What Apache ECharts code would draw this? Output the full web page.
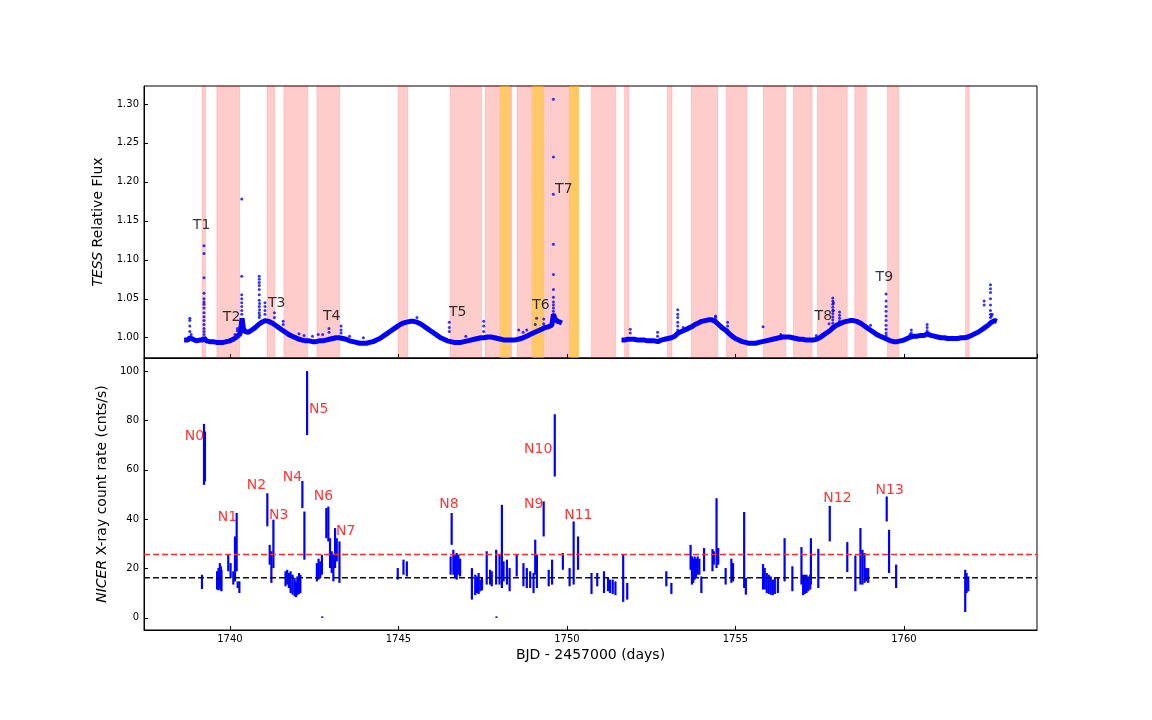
<!DOCTYPE html>
<html><head><meta charset="utf-8">
<script src="https://cdn.jsdelivr.net/npm/echarts@6/dist/echarts.min.js"></script>
<style>html,body{margin:0;padding:0;background:#fff}#c{width:1152px;height:720px}</style>
</head><body><div id="c"></div>
<script>
// ---------- data ----------
const xMin = 1737.45, xMax = 1763.95;
const xTicks = [1740, 1745, 1750, 1755, 1760];
const fluxTicks = [1.00, 1.05, 1.10, 1.15, 1.20, 1.25, 1.30];
const rateTicks = [0, 20, 40, 60, 80, 100];

// TESS baseline, orbit 1
const tessT1 = [1738.64,1738.75,1738.81,1738.90,1739.00,1739.10,1739.20,1739.23,1739.30,1739.40,1739.50,1739.60,1739.70,1739.80,1739.90,1740.00,1740.10,1740.20,1740.30,1740.36,1740.40,1740.45,1740.55,1740.65,1740.75,1740.85,1740.95,1741.05,1741.15,1741.25,1741.35,1741.45,1741.55,1741.65,1741.75,1741.85,1741.95,1742.05,1742.15,1742.25,1742.35,1742.45,1742.55,1742.65,1742.75,1742.85,1742.95,1743.05,1743.15,1743.25,1743.35,1743.45,1743.55,1743.65,1743.75,1743.85,1743.95,1744.05,1744.15,1744.25,1744.35,1744.45,1744.55,1744.65,1744.75,1744.85,1744.95,1745.05,1745.15,1745.25,1745.35,1745.45,1745.55,1745.65,1745.75,1745.85,1745.95,1746.05,1746.15,1746.25,1746.35,1746.45,1746.55,1746.65,1746.75,1746.85,1746.95,1747.05,1747.15,1747.25,1747.35,1747.45,1747.55,1747.65,1747.75,1747.85,1747.95,1748.05,1748.15,1748.25,1748.35,1748.45,1748.55,1748.65,1748.75,1748.85,1748.95,1749.05,1749.15,1749.25,1749.35,1749.45,1749.55,1749.60,1749.65,1749.72,1749.80,1749.85];
const tessF1 = [0.997,0.997,1.000,0.998,0.996,0.997,0.997,1.000,0.996,0.995,0.995,0.994,0.994,0.994,0.995,0.996,0.998,1.001,1.005,1.025,1.012,1.008,1.007,1.010,1.013,1.017,1.020,1.022,1.021,1.019,1.016,1.013,1.010,1.007,1.004,1.002,1.000,0.998,0.997,0.996,0.996,0.995,0.995,0.996,0.996,0.997,0.998,0.999,1.000,1.000,0.999,0.998,0.996,0.995,0.994,0.993,0.993,0.993,0.994,0.995,0.997,0.999,1.002,1.005,1.008,1.011,1.014,1.017,1.019,1.020,1.021,1.021,1.020,1.018,1.015,1.012,1.009,1.006,1.003,1.000,0.998,0.996,0.995,0.994,0.994,0.994,0.995,0.996,0.997,0.998,0.999,1.000,1.000,1.001,1.001,1.000,0.999,0.998,0.997,0.997,0.997,0.997,0.998,0.999,1.001,1.003,1.005,1.007,1.009,1.011,1.013,1.014,1.016,1.030,1.024,1.021,1.020,1.019];
// TESS baseline, orbit 2
const tessT2 = [1751.62,1751.70,1751.80,1751.90,1752.00,1752.10,1752.20,1752.30,1752.40,1752.50,1752.60,1752.70,1752.80,1752.90,1753.00,1753.10,1753.20,1753.30,1753.40,1753.50,1753.60,1753.70,1753.80,1753.90,1754.00,1754.10,1754.20,1754.30,1754.40,1754.50,1754.60,1754.70,1754.80,1754.90,1755.00,1755.10,1755.20,1755.30,1755.40,1755.50,1755.60,1755.70,1755.80,1755.90,1756.00,1756.10,1756.20,1756.30,1756.40,1756.50,1756.60,1756.70,1756.80,1756.90,1757.00,1757.10,1757.20,1757.30,1757.40,1757.50,1757.60,1757.70,1757.80,1757.90,1758.00,1758.10,1758.20,1758.30,1758.40,1758.50,1758.60,1758.70,1758.80,1758.90,1759.00,1759.10,1759.20,1759.30,1759.40,1759.50,1759.60,1759.70,1759.80,1759.90,1760.00,1760.10,1760.20,1760.30,1760.40,1760.50,1760.60,1760.70,1760.80,1760.90,1761.00,1761.10,1761.20,1761.30,1761.40,1761.50,1761.60,1761.70,1761.80,1761.90,1762.00,1762.10,1762.20,1762.30,1762.40,1762.50,1762.60,1762.70,1762.76];
const tessF2 = [0.997,0.997,0.998,0.998,0.998,0.997,0.997,0.997,0.996,0.996,0.996,0.995,0.997,0.998,0.999,1.000,1.002,1.006,1.008,1.010,1.012,1.014,1.017,1.019,1.021,1.022,1.023,1.023,1.021,1.017,1.013,1.010,1.006,1.002,0.999,0.997,0.995,0.994,0.993,0.993,0.993,0.994,0.995,0.996,0.997,0.998,0.999,1.000,1.001,1.001,1.001,1.000,0.999,0.998,0.998,0.997,0.997,0.997,0.998,1.000,1.003,1.006,1.009,1.013,1.016,1.018,1.020,1.021,1.022,1.022,1.021,1.019,1.016,1.013,1.010,1.007,1.004,1.002,1.000,0.998,0.996,0.995,0.995,0.996,0.997,0.999,1.001,1.002,1.002,1.003,1.003,1.005,1.003,1.002,1.001,1.000,1.000,0.999,0.999,0.999,0.999,1.000,1.000,1.001,1.003,1.005,1.007,1.010,1.013,1.016,1.020,1.022,1.021];
// TESS flare points
const flareT = [1738.81,1738.81,1738.81,1738.81,1738.85,
 1739.23,1739.23,1739.23,1739.23,1739.23,1739.23,1739.23,1739.23,1739.23,1739.23,1739.23,1739.23,1739.23,1739.23,1739.23,
 1740.15,1740.22,1740.22,1740.28,
 1740.35,1740.35,1740.35,1740.35,1740.35,1740.35,1740.35,1740.35,1740.37,1740.38,
 1740.87,1740.87,1740.87,1740.87,1740.87,1740.87,1740.87,1740.87,1740.87,1740.87,1740.88,1740.88,1740.88,
 1741.04,1741.04,1741.04,1741.04,1741.32,1741.32,1741.58,1741.58,
 1742.05,1742.20,1742.45,1742.62,1742.75,1742.94,1742.94,1743.30,1743.30,1743.30,1743.55,1743.96,1745.55,1746.51,1746.51,1746.51,
 1747.00,1747.53,1747.53,1747.53,1748.57,1748.70,1748.81,1749.06,1749.10,1749.31,1749.31,1749.31,
 1749.60,1749.60,1749.60,1749.60,1749.60,1749.60,1749.60,1749.60,1749.60,1749.60,1749.60,1749.60,1749.60,1749.60,
 1751.88,1751.88,1752.69,1752.69,1753.29,1753.29,1753.29,1753.29,1753.29,1753.29,1753.59,1753.45,1754.41,1754.41,1754.41,1754.77,1754.77,1754.77,1755.82,1756.35,1757.40,1757.78,
 1757.89,1757.89,1757.89,1757.89,1757.89,1757.89,1757.89,1757.89,1757.89,1757.89,1757.91,1757.91,
 1758.09,1758.09,1758.09,1758.09,1758.09,1759.01,
 1759.47,1759.47,1759.47,1759.47,1759.47,1759.47,1759.47,1759.47,1759.47,1759.47,1759.47,
 1760.18,1760.22,1760.22,1760.69,1760.69,1760.69,1762.38,1762.38,
 1762.57,1762.57,1762.57,1762.57,1762.57,1762.57,1762.57,1762.57,1762.60,1762.62];
const flareF = [1.025,1.022,1.015,1.008,1.004,
 1.118,1.108,1.077,1.057,1.050,1.046,1.043,1.038,1.032,1.027,1.022,1.017,1.012,1.008,1.004,
 1.004,1.012,1.009,1.010,
 1.178,1.079,1.055,1.050,1.045,1.040,1.035,1.030,1.020,1.016,
 1.079,1.075,1.071,1.067,1.062,1.055,1.048,1.040,1.032,1.026,1.029,1.036,1.044,
 1.045,1.040,1.035,1.030,1.032,1.026,1.021,1.017,
 1.005,1.003,1.002,1.004,1.004,1.012,1.007,1.015,1.010,1.006,1.002,1.000,1.026,1.020,1.013,1.008,
 1.002,1.021,1.015,1.008,1.010,1.007,1.010,1.017,1.025,1.024,1.018,1.014,
 1.306,1.232,1.184,1.120,1.081,1.062,1.052,1.046,1.042,1.038,1.034,1.030,1.026,1.022,
 1.011,1.006,1.007,1.002,1.036,1.030,1.026,1.020,1.015,1.010,1.012,1.013,1.028,1.022,1.026,1.020,1.015,1.010,1.014,1.004,1.003,1.018,
 1.051,1.047,1.043,1.039,1.035,1.031,1.027,1.023,1.019,1.015,1.045,1.035,
 1.033,1.029,1.025,1.021,1.018,1.016,
 1.056,1.047,1.040,1.034,1.028,1.022,1.016,1.011,1.006,1.003,1.000,
 1.004,1.010,1.006,1.017,1.013,1.009,1.047,1.042,
 1.068,1.063,1.058,1.050,1.042,1.035,1.030,1.026,1.028,1.030];

// shaded intervals (start, end)
const pinkStart = [1739.17,1739.61,1741.10,1741.60,1742.58,1744.99,1746.53,1747.57,1748.32,1748.52,1749.31,1749.50,1750.72,1751.71,1752.98,1753.69,1754.73,1755.83,1756.72,1757.43,1758.54,1759.51,1761.83];
const pinkEnd   = [1739.28,1740.29,1741.33,1742.31,1743.26,1745.28,1747.47,1748.02,1748.37,1748.97,1749.46,1750.07,1751.45,1751.84,1753.12,1754.48,1755.34,1756.50,1757.28,1758.32,1758.89,1759.85,1761.94];
const orangeStart = [1748.02,1748.97,1750.07];
const orangeEnd   = [1748.32,1749.31,1750.36];

// NICER count-rate spans (time, low, high)
const nicerT = [1739.17,1739.23,1739.26,1739.62,1739.66,1739.70,1739.73,1739.75,1739.95,1740.02,1740.10,1740.15,1740.20,1740.23,1740.28,
 1741.11,1741.18,1741.23,1741.29,1741.65,1741.70,1741.75,1741.80,1741.86,1741.92,1741.96,1742.00,1742.05,1742.09,1742.15,1742.21,1742.29,
 1742.58,1742.63,1742.68,1742.73,1742.74,1742.86,1742.92,1742.97,1743.02,1743.07,1743.12,1743.17,1743.25,
 1744.98,1745.15,1745.25,1746.55,1746.58,1746.63,1746.68,1746.73,1746.78,1746.83,
 1747.18,1747.28,1747.33,1747.38,1747.43,1747.48,1747.62,1747.72,1747.77,1747.90,1747.91,1748.00,1748.07,1748.12,1748.22,1748.30,
 1748.51,1748.71,1748.81,1748.91,1749.01,1749.06,1749.11,1749.31,1749.46,1749.56,1749.64,1749.88,1750.08,1750.20,1750.33,1750.73,
 1750.90,1751.10,1751.22,1751.28,1751.36,1751.44,1751.67,1751.79,1752.95,1753.10,
 1753.67,1753.71,1753.75,1753.79,1753.83,1753.88,1753.93,1753.99,1754.07,1754.32,1754.36,1754.44,1754.49,1754.71,1754.88,1754.93,
 1755.26,1755.31,1755.82,1755.87,1755.93,1755.99,1756.05,1756.11,1756.17,1756.26,1756.46,1756.69,
 1756.96,1757.01,1757.06,1757.11,1757.16,1757.22,1757.24,1757.46,1757.80,1758.32,1758.56,1758.71,1758.77,1758.83,1758.88,1758.94,
 1759.49,1759.56,1759.77,1761.82,1761.86,1761.91];
const nicerLo = [11.7,53.9,55.3,11.5,11.2,12.1,11.2,10.8,18.9,16.2,13.5,14.8,18.9,12.1,10.1,
 37.1,21.6,14.2,20.2,12.8,13.5,12.1,10.1,9.4,8.8,8.4,9.2,9.7,10.1,44.5,23.6,74.1,
 14.8,15.5,16.2,17.5,0.0,32.3,31.0,20.2,18.2,14.8,20.2,22.9,14.2,
 15.5,17.5,16.8,17.5,29.6,17.5,16.2,15.5,17.5,16.8,
 7.4,9.2,10.1,9.7,10.8,11.2,13.5,13.5,12.8,13.5,0.0,13.5,12.1,14.8,13.5,10.8,
 16.8,12.8,12.1,12.1,10.1,17.5,12.1,33.0,12.8,13.5,57.3,19.5,12.8,13.5,19.5,9.7,
 12.8,10.1,10.8,10.1,9.7,9.2,6.5,7.4,12.8,9.7,
 19.5,13.5,14.2,15.5,16.2,17.5,17.5,10.1,18.9,18.9,21.6,20.2,21.6,13.5,14.2,14.8,
 12.1,9.4,11.5,11.5,10.1,9.7,9.4,9.2,9.7,10.1,14.8,10.8,
 13.5,9.2,9.7,10.1,10.8,11.5,13.5,12.1,31.0,18.6,10.8,13.5,13.5,14.2,14.8,14.2,
 39.1,18.2,12.1,2.4,10.1,10.8];
const nicerHi = [17.5,78.6,75.5,18.9,20.2,22.2,20.9,19.5,25.9,22.2,18.9,33.0,42.5,14.8,14.8,
 50.5,29.6,27.0,39.8,18.9,19.5,18.2,18.9,17.5,16.2,14.8,16.8,18.2,17.5,55.5,43.1,100.0,
 22.2,24.0,22.9,25.6,0.4,44.5,45.1,32.3,27.0,25.6,36.4,32.3,31.0,
 20.2,23.6,22.9,24.9,42.5,27.6,25.6,26.3,25.6,24.0,
 20.2,17.5,16.8,18.2,15.5,16.2,27.0,19.5,18.9,27.6,0.4,25.6,45.8,22.9,23.6,20.2,
 25.6,22.2,20.2,18.9,18.2,31.7,25.6,47.2,19.5,23.6,82.5,26.3,20.2,39.1,33.0,18.2,
 18.2,18.9,16.2,15.5,15.5,14.8,25.6,14.2,18.9,14.2,
 29.6,24.9,24.0,24.9,24.0,24.9,24.0,16.8,28.3,27.9,27.0,48.5,28.3,20.2,24.0,22.2,
 42.9,16.2,21.8,20.2,18.2,17.5,16.8,15.5,16.2,16.2,32.3,20.9,
 28.7,17.5,17.5,17.5,16.8,17.5,32.3,28.0,45.4,30.7,25.3,36.4,27.6,26.3,20.2,20.2,
 49.2,35.7,21.6,19.5,18.2,16.8];
const redLevel = 25.7, blackLevel = 16.3;

// annotation labels
const tLabels = ['T1','T2','T3','T4','T5','T6','T7','T8','T9'];
const tLabelX = [1738.90,1739.79,1741.13,1742.76,1746.50,1748.97,1749.65,1757.35,1759.16];
const tLabelY = [1.1436,1.0256,1.0436,1.028,1.032,1.042,1.190,1.028,1.077];
const nLabels = ['N0','N1','N2','N3','N4','N5','N6','N7','N8','N9','N10','N11','N12','N13'];
const nLabelX = [1738.66,1739.64,1740.50,1741.16,1741.57,1742.35,1742.49,1743.15,1746.21,1748.73,1748.73,1749.92,1757.61,1759.16];
const nLabelY = [73.7,40.9,53.8,41.7,57.1,84.6,49.4,35.2,46.2,46.2,68.4,41.7,48.6,51.8];

// ---------- chart ----------
const FONT = 'DejaVu Sans';
const chart = echarts.init(document.getElementById('c'), null, {renderer: 'canvas'});
const pink = pinkStart.map((s, i) => [{xAxis: s}, {xAxis: pinkEnd[i]}]);
const orange = orangeStart.map((s, i) => [{xAxis: s}, {xAxis: orangeEnd[i]}]);
const blue = '#0000ff';

function xAxisCfg(idx, showLabel) {
  return {
    type: 'value', gridIndex: idx, min: xMin, max: xMax, minInterval: 5, maxInterval: 5,
    axisLine: {show: true, onZero: false, lineStyle: {color: '#000', width: 1}},
    axisTick: {show: true, inside: true, length: 4, lineStyle: {color: '#000'}},
    splitLine: {show: false},
    axisLabel: {show: showLabel, margin: 4, color: '#000', fontSize: 10, fontFamily: FONT,
      showMinLabel: false, showMaxLabel: false,
      formatter: v => xTicks.indexOf(Math.round(v)) >= 0 ? String(Math.round(v)) : ''},
    name: showLabel ? 'BJD - 2457000 (days)' : '', nameLocation: 'middle', nameGap: 18,
    nameTextStyle: {fontSize: 14, fontFamily: FONT, color: '#000'}
  };
}

const option = {
  animation: false,
  backgroundColor: '#fff',
  grid: [
    {left: 144, top: 86, width: 893, height: 272, show: true, borderColor: '#000', borderWidth: 1, backgroundColor: 'transparent'},
    {left: 144, top: 358, width: 893, height: 272, show: true, borderColor: '#000', borderWidth: 1, backgroundColor: 'transparent'}
  ],
  xAxis: [xAxisCfg(0, false), xAxisCfg(1, true)],
  yAxis: [
    {type: 'value', gridIndex: 0, min: 0.974, max: 1.323, minInterval: 0.05, maxInterval: 0.05,
     axisLine: {show: true, onZero: false, lineStyle: {color: '#000'}},
     axisTick: {show: true, inside: true, length: 4, lineStyle: {color: '#000'}},
     splitLine: {show: false},
     axisLabel: {margin: 5, color: '#000', fontSize: 10, fontFamily: FONT, showMinLabel: false, showMaxLabel: false,
       formatter: v => { const r = Math.round(v * 100) / 100; return fluxTicks.some(t => Math.abs(t - r) < 1e-6) && Math.abs(v - r) < 1e-6 ? r.toFixed(2) : ''; }},
     name: '{i|TESS} Relative Flux', nameLocation: 'middle', nameGap: 33, nameRotate: 90,
     nameTextStyle: {fontSize: 14, fontFamily: FONT, color: '#000',
       rich: {i: {fontStyle: 'italic', fontSize: 14, fontFamily: FONT, color: '#000'}}}},
    {type: 'value', gridIndex: 1, min: -4.9, max: 105.3, minInterval: 20, maxInterval: 20,
     axisLine: {show: true, onZero: false, lineStyle: {color: '#000'}},
     axisTick: {show: true, inside: true, length: 4, lineStyle: {color: '#000'}},
     splitLine: {show: false},
     axisLabel: {margin: 5, color: '#000', fontSize: 10, fontFamily: FONT, showMinLabel: false, showMaxLabel: false,
       formatter: v => rateTicks.indexOf(Math.round(v)) >= 0 && Math.abs(v - Math.round(v)) < 1e-6 ? String(Math.round(v)) : ''},
     name: '{i|NICER} X-ray count rate (cnts/s)', nameLocation: 'middle', nameGap: 33, nameRotate: 90,
     nameTextStyle: {fontSize: 14, fontFamily: FONT, color: '#000',
       rich: {i: {fontStyle: 'italic', fontSize: 14, fontFamily: FONT, color: '#000'}}}}
  ],
  series: [
    {type: 'line', xAxisIndex: 0, yAxisIndex: 0, data: [], z: 1, silent: true,
     markArea: {silent: true, itemStyle: {color: 'rgba(255,0,0,0.2)', borderColor: 'rgba(255,0,0,0.12)', borderWidth: 1}, data: pink}},
    {type: 'line', xAxisIndex: 0, yAxisIndex: 0, data: [], z: 1, silent: true,
     markArea: {silent: true, itemStyle: {color: 'rgba(255,165,0,0.6)'}, data: orange}},
    {type: 'line', xAxisIndex: 0, yAxisIndex: 0, z: 3, showSymbol: false, symbol: 'none',
     lineStyle: {color: blue, width: 5}, data: tessT1.map((t, i) => [t, tessF1[i]])},
    {type: 'line', xAxisIndex: 0, yAxisIndex: 0, z: 3, showSymbol: false, symbol: 'none',
     lineStyle: {color: blue, width: 5}, data: tessT2.map((t, i) => [t, tessF2[i]])},
    {type: 'scatter', xAxisIndex: 0, yAxisIndex: 0, z: 4, symbolSize: 3, itemStyle: {color: blue},
     data: flareT.map((t, i) => [t, flareF[i]])},
    {type: 'scatter', xAxisIndex: 0, yAxisIndex: 0, z: 6, symbolSize: 0, silent: true,
     label: {show: true, position: 'right', distance: 0, formatter: p => p.data[2], fontSize: 14, fontFamily: FONT, color: '#000'},
     data: tLabels.map((n, i) => [tLabelX[i], tLabelY[i], n])},
    {type: 'custom', xAxisIndex: 1, yAxisIndex: 1, z: 3,
     renderItem: function (params, api) {
       const p1 = api.coord([api.value(0), api.value(1)]);
       const p2 = api.coord([api.value(0), api.value(2)]);
       const y2 = Math.abs(p1[1] - p2[1]) < 1.5 ? p1[1] - 1.5 : p2[1];
       return {type: 'line', shape: {x1: p1[0], y1: p1[1], x2: p2[0], y2: y2}, style: {stroke: blue, lineWidth: 2.2}};
     },
     encode: {x: 0, y: [1, 2]},
     data: nicerT.map((t, i) => [t, nicerLo[i], nicerHi[i]])},
    {type: 'line', xAxisIndex: 1, yAxisIndex: 1, z: 5, symbol: 'none', silent: true,
     lineStyle: {color: '#ff2a2a', width: 1.5, type: [6, 3]}, data: [[xMin, redLevel], [xMax, redLevel]]},
    {type: 'line', xAxisIndex: 1, yAxisIndex: 1, z: 5, symbol: 'none', silent: true,
     lineStyle: {color: '#111', width: 1.5, type: [6, 3]}, data: [[xMin, blackLevel], [xMax, blackLevel]]},
    {type: 'scatter', xAxisIndex: 1, yAxisIndex: 1, z: 6, symbolSize: 0, silent: true,
     label: {show: true, position: 'right', distance: 0, formatter: p => p.data[2], fontSize: 14, fontFamily: FONT, color: '#ff0000'},
     data: nLabels.map((n, i) => [nLabelX[i], nLabelY[i], n])}
  ]
};
chart.setOption(option);
</script></body></html>
